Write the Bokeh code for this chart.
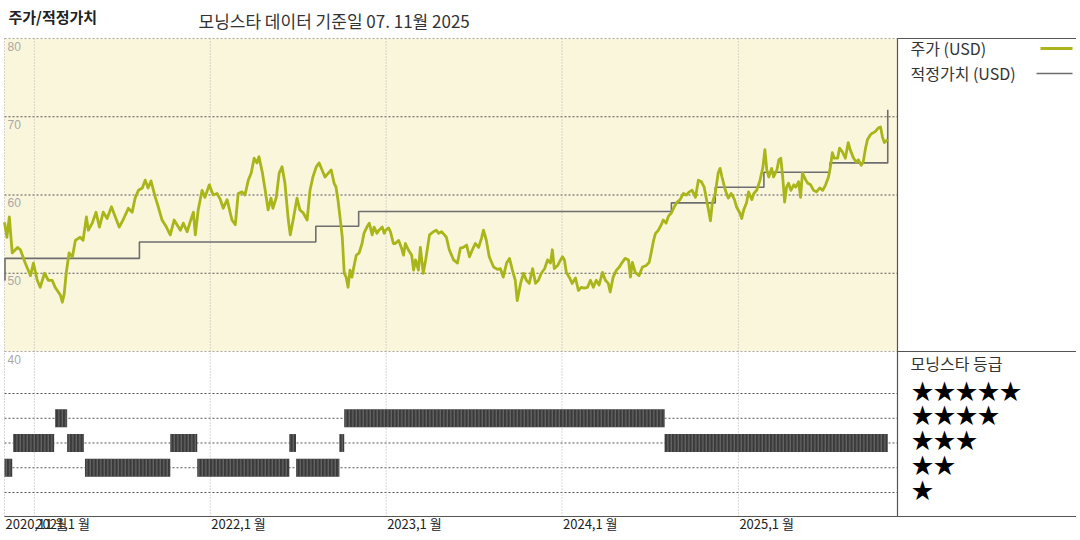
import pandas as pd
from bokeh.plotting import figure
from bokeh.models import ColumnDataSource, Range1d
from bokeh.core.properties import value
from bokeh.embed import file_html
from bokeh.resources import INLINE

# --- data -------------------------------------------------------------
price_dates = [
    "2020-10-31", "2020-11-05", "2020-11-10", "2020-11-16", "2020-11-27", "2020-12-03", "2020-12-13", "2020-12-24", "2020-12-30",
    "2021-01-07", "2021-01-13", "2021-01-22", "2021-01-30", "2021-02-07", "2021-02-13", "2021-02-24", "2021-02-28",
    "2021-03-04", "2021-03-08", "2021-03-14", "2021-03-21", "2021-03-27", "2021-04-06", "2021-04-12", "2021-04-19",
    "2021-04-23", "2021-05-01", "2021-05-09", "2021-05-16", "2021-05-24", "2021-06-01", "2021-06-10", "2021-06-18",
    "2021-06-26", "2021-07-04", "2021-07-15", "2021-07-23", "2021-07-29", "2021-08-05", "2021-08-13", "2021-08-19",
    "2021-08-25", "2021-08-31", "2021-09-09", "2021-09-15", "2021-09-23", "2021-10-02", "2021-10-10", "2021-10-18",
    "2021-10-24", "2021-10-31", "2021-11-06", "2021-11-14", "2021-11-20", "2021-11-27", "2021-12-01", "2021-12-07",
    "2021-12-15", "2021-12-21", "2021-12-30",
    "2022-01-07", "2022-01-15", "2022-01-22", "2022-01-28", "2022-02-05", "2022-02-15", "2022-02-22", "2022-02-28",
    "2022-03-08", "2022-03-14", "2022-03-21", "2022-03-27", "2022-04-02", "2022-04-08", "2022-04-12", "2022-04-19",
    "2022-04-25", "2022-05-01", "2022-05-07", "2022-05-11", "2022-05-18", "2022-05-24", "2022-05-30", "2022-06-05",
    "2022-06-12", "2022-06-16", "2022-06-22", "2022-06-30", "2022-07-06", "2022-07-13", "2022-07-21", "2022-07-27",
    "2022-08-02", "2022-08-09", "2022-08-15", "2022-08-21", "2022-08-27", "2022-09-03", "2022-09-09", "2022-09-15",
    "2022-09-19", "2022-09-23", "2022-09-28", "2022-10-02", "2022-10-06", "2022-10-10", "2022-10-14", "2022-10-18",
    "2022-10-22", "2022-10-26", "2022-10-31", "2022-11-06", "2022-11-12", "2022-11-16", "2022-11-22", "2022-11-27",
    "2022-12-03", "2022-12-07", "2022-12-13", "2022-12-17", "2022-12-24", "2022-12-28", "2022-12-31",
    "2023-01-06", "2023-01-10", "2023-01-16", "2023-01-20", "2023-01-27", "2023-02-02", "2023-02-06", "2023-02-10",
    "2023-02-16", "2023-02-23", "2023-02-27", "2023-03-03", "2023-03-09", "2023-03-13", "2023-03-19", "2023-03-24",
    "2023-03-28", "2023-04-01", "2023-04-09", "2023-04-15", "2023-04-20", "2023-04-26", "2023-05-02", "2023-05-06",
    "2023-05-12", "2023-05-21", "2023-05-29", "2023-06-04", "2023-06-10", "2023-06-17", "2023-06-23", "2023-06-29",
    "2023-07-05", "2023-07-12", "2023-07-18", "2023-07-22", "2023-07-28", "2023-08-03", "2023-08-12", "2023-08-20",
    "2023-08-26", "2023-09-01", "2023-09-08", "2023-09-14", "2023-09-20", "2023-09-26", "2023-09-30", "2023-10-07",
    "2023-10-13", "2023-10-19", "2023-10-25", "2023-11-01", "2023-11-07", "2023-11-13", "2023-11-19", "2023-11-26",
    "2023-12-02", "2023-12-08", "2023-12-12", "2023-12-16", "2023-12-23", "2023-12-29",
    "2024-01-02", "2024-01-06", "2024-01-10", "2024-01-16", "2024-01-22", "2024-01-29", "2024-02-04", "2024-02-10",
    "2024-02-16", "2024-02-23", "2024-02-29", "2024-03-06", "2024-03-12", "2024-03-18", "2024-03-25", "2024-03-31",
    "2024-04-06", "2024-04-10", "2024-04-16", "2024-04-23", "2024-04-29", "2024-05-05", "2024-05-11", "2024-05-18",
    "2024-05-22", "2024-05-26", "2024-06-01", "2024-06-09", "2024-06-16", "2024-06-24", "2024-06-30", "2024-07-04",
    "2024-07-09", "2024-07-13", "2024-07-19", "2024-07-25", "2024-07-29", "2024-08-04", "2024-08-09", "2024-08-15",
    "2024-08-21", "2024-08-27", "2024-09-02", "2024-09-09", "2024-09-15", "2024-09-21", "2024-09-27", "2024-10-04",
    "2024-10-10", "2024-10-16", "2024-10-22", "2024-10-27", "2024-10-31", "2024-11-04", "2024-11-08", "2024-11-14",
    "2024-11-20", "2024-11-24", "2024-11-28", "2024-12-05", "2024-12-11", "2024-12-17", "2024-12-24", "2024-12-28",
    "2025-01-04", "2025-01-08", "2025-01-12", "2025-01-18", "2025-01-22", "2025-01-29", "2025-02-02", "2025-02-08",
    "2025-02-15", "2025-02-21", "2025-02-25", "2025-03-01", "2025-03-05", "2025-03-11", "2025-03-15", "2025-03-22",
    "2025-03-26", "2025-03-30", "2025-04-03", "2025-04-07", "2025-04-11", "2025-04-15", "2025-04-20", "2025-04-26",
    "2025-04-30", "2025-05-06", "2025-05-10", "2025-05-14", "2025-05-21", "2025-05-25", "2025-05-31", "2025-06-06",
    "2025-06-12", "2025-06-19", "2025-06-25", "2025-07-01", "2025-07-07", "2025-07-11", "2025-07-15", "2025-07-19",
    "2025-07-26", "2025-07-30", "2025-08-05", "2025-08-11", "2025-08-17", "2025-08-21", "2025-08-28", "2025-09-03",
    "2025-09-07", "2025-09-13", "2025-09-17", "2025-09-22", "2025-09-26", "2025-10-02", "2025-10-06", "2025-10-12",
    "2025-10-19", "2025-10-23", "2025-10-27", "2025-10-31", "2025-11-07",
]
price_vals = [
    56.5, 54.6, 57.2, 52.6, 53.3, 53.0, 51.3, 49.7, 51.3,
    49.1, 48.2, 50.0, 49.1, 49.1, 48.2, 47.2, 46.3,
    47.4, 50.0, 52.6, 52.1, 54.2, 54.6, 54.2, 57.2,
    55.5, 56.4, 57.8, 55.9, 57.8, 57.0, 58.5, 57.2,
    55.9, 56.8, 58.3, 57.8, 59.6, 60.6, 60.9, 61.9,
    60.9, 61.8, 59.7, 58.5, 56.8, 55.9, 54.9, 56.8,
    56.2, 55.5, 56.4, 55.3, 56.5, 57.8, 54.9, 58.1,
    60.6, 59.7, 61.3,
    60.0, 60.2, 59.4, 58.3, 59.4, 56.8, 56.2, 60.2,
    60.4, 60.0, 61.9, 62.8, 64.7, 64.1, 64.9, 62.9,
    60.6, 58.1, 59.6, 58.3, 59.7, 62.8, 63.6, 61.5,
    56.8, 54.9, 56.8, 59.6, 58.1, 57.7, 56.8, 60.6,
    62.3, 63.6, 64.1, 63.2, 62.3, 62.8, 63.2, 61.5,
    61.0, 59.4, 56.8, 54.6, 50.0, 49.5, 48.2, 50.4,
    49.5, 50.8, 52.3, 52.6, 53.8, 55.1, 55.9, 56.4,
    54.9, 55.9, 55.1, 55.5, 55.9, 55.1, 55.5,
    55.8, 55.3, 53.8, 53.8, 54.2, 53.2, 52.3, 53.8,
    53.0, 52.3, 50.4, 51.7, 50.4, 53.3, 50.0, 51.7,
    53.3, 54.9, 55.3, 55.5, 55.1, 55.3, 54.9, 54.6,
    53.0, 51.7, 51.3, 53.2, 53.3, 53.6, 52.1, 53.0,
    53.8, 53.3, 54.5, 55.5, 54.2, 52.1, 50.8, 50.5,
    50.6, 49.5, 51.3, 51.9, 50.4, 49.1, 46.5, 48.7,
    50.0, 49.1, 48.7, 50.6, 48.7, 49.1, 50.0, 50.6,
    51.7, 51.3, 53.0, 50.6, 51.0, 51.7,
    52.1, 51.7, 50.1, 49.5, 48.7, 49.4, 47.8, 48.2,
    48.1, 48.2, 49.1, 48.2, 49.1, 48.5, 50.1, 49.1,
    48.7, 47.6, 49.5, 50.4, 50.8, 51.4, 51.9, 51.7,
    49.5, 51.4, 50.1, 49.7, 50.8, 51.0, 51.4, 52.6,
    54.2, 55.1, 55.5, 56.2, 56.8, 56.4, 57.3, 57.7,
    58.5, 59.1, 59.4, 60.2, 60.0, 60.4, 60.6, 59.7,
    61.9, 61.7, 61.0, 59.4, 58.1, 56.7, 59.0, 60.2,
    62.8, 63.4, 62.3, 60.6, 59.6, 60.2, 59.4, 58.5,
    57.7, 57.0, 58.1, 59.0, 60.4, 59.4, 60.2, 60.6,
    61.9, 63.6, 65.8, 63.2, 62.3, 63.4, 62.3, 63.2,
    64.5, 64.7, 62.3, 59.1, 61.0, 61.5, 60.6, 61.3,
    61.0, 61.7, 59.7, 62.8, 61.9, 61.5, 61.3, 60.6,
    60.4, 60.9, 60.6, 61.3, 62.3, 63.6, 65.4, 64.7,
    64.7, 66.0, 65.5, 64.7, 66.7, 65.8, 64.7, 64.2,
    64.5, 63.8, 64.2, 66.0, 67.1, 67.7, 67.9, 68.1,
    68.6, 68.7, 67.4, 66.7, 67.1,
]

fair_dates = ["2020-10-31", "2020-11-01", "2021-08-07", "2022-08-08", "2022-11-05",
              "2024-08-15", "2024-11-14", "2025-02-23", "2025-07-10", "2025-11-07"]
fair_vals = [49.1, 51.9, 54.0, 56.0, 57.9, 59.0, 61.0, 62.9, 64.1, 70.9]

rating_start = ["2020-10-31", "2020-11-18", "2021-02-13", "2021-03-10", "2021-04-16", "2021-10-10",
                "2021-12-05", "2022-06-14", "2022-06-28", "2022-09-26", "2022-10-06", "2024-08-01"]
rating_end = ["2020-11-16", "2021-02-11", "2021-03-10", "2021-04-14", "2021-10-10", "2021-12-05",
              "2022-06-14", "2022-06-28", "2022-09-26", "2022-10-06", "2024-08-01", "2025-11-07"]
rating_stars = [2, 3, 4, 3, 2, 3, 2, 3, 2, 3, 4, 3]

value_ticks = [80, 70, 60, 50, 40]
year_ticks = ["2020-10-31", "2021-01-01", "2022-01-01", "2023-01-01", "2024-01-01", "2025-01-01"]
year_labels = ["2020,11 월", "2021,1 월", "2022,1 월", "2023,1 월", "2024,1 월", "2025,1 월"]

title_left = "주가/적정가치"
title_mid = "모닝스타 데이터 기준일 07. 11월 2025"
legend_labels = ["주가 (USD)", "적정가치 (USD)"]
rating_title = "모닝스타 등급"

# --- layout (pixel positions of the panels) ---------------------------
W, H = 1076, 532
FONT = value("Noto Sans CJK KR")
PX_PER_DAY = 176 / 365.25          # one year = 176 px
LEFT_PX = 4                         # where the first date sits
TOP_PX, MID_PX, BOT_PX = 38, 351, 516   # 80 line, 40 line, rating-0 line
PX_PER_VAL = (MID_PX - TOP_PX) / 40.0
ROW_PX = 24.75                      # one star row
RIGHT_PX = 897                      # border to the legend area

x0 = pd.Timestamp("2020-10-31")
x_start = x0 - pd.Timedelta(days=LEFT_PX / PX_PER_DAY)
x_end = x_start + pd.Timedelta(days=W / PX_PER_DAY)
plot_end = x_start + pd.Timedelta(days=RIGHT_PX / PX_PER_DAY)
y_top = 80 + TOP_PX / PX_PER_VAL
y_bot = 40 - (H - MID_PX) / PX_PER_VAL
r0 = BOT_PX + 0.75

p = figure(width=W, height=H, output_backend="svg", toolbar_location=None,
           x_axis_location=None, y_axis_location=None, min_border=0,
           x_range=Range1d(x_start, x_end), y_range=Range1d(y_bot, y_top))
p.extra_x_ranges = {"px": Range1d(0, W)}
p.extra_y_ranges = {"py": Range1d(H, 0), "rt": Range1d((r0 - H) / ROW_PX, r0 / ROW_PX)}
p.outline_line_color = None
p.xgrid.visible = False
p.ygrid.visible = False
p.background_fill_color = "white"
p.border_fill_color = "white"

# yellow price panel
p.quad(left=[x0], right=[plot_end], bottom=[40], top=[80], fill_color="#FAF6DC", line_color=None)

# value grid
p.segment(x0=[x0] * 3, x1=[plot_end] * 3, y0=[50, 60, 70], y1=[50, 60, 70],
          line_color="#555555", line_dash="2 2", line_width=1)
p.segment(x0=[x0] * 2, x1=[plot_end] * 2, y0=[80, 40], y1=[80, 40],
          line_color="#a8a8a8", line_dash="2 2", line_width=1)

# rating rows
rows = [1, 2, 3, 4, 5]
p.segment(x0=[x0] * 5, x1=[plot_end] * 5, y0=rows, y1=rows, y_range_name="rt",
          line_color="#555555", line_dash="2 2", line_width=1)

# year grid + left border
yr = pd.to_datetime(year_ticks)
p.segment(x0=yr, x1=yr, y0=[TOP_PX] * len(yr), y1=[BOT_PX] * len(yr), y_range_name="py",
          line_color="#b0b0b0", line_dash="1 2", line_width=1)

# frame lines
p.segment(x0=[LEFT_PX, RIGHT_PX, RIGHT_PX, RIGHT_PX], x1=[W, W, W, RIGHT_PX],
          y0=[BOT_PX, TOP_PX, MID_PX, TOP_PX], y1=[BOT_PX, TOP_PX, MID_PX, BOT_PX],
          x_range_name="px", y_range_name="py", line_color="#555555", line_width=1.2)

# rating history
rsrc = ColumnDataSource(dict(
    left=pd.to_datetime(rating_start), right=pd.to_datetime(rating_end),
    bottom=[r - 0.36 for r in rating_stars], top=[r + 0.36 for r in rating_stars]))
p.quad(left="left", right="right", bottom="bottom", top="top", source=rsrc, y_range_name="rt",
       fill_color="#3a3a3a", line_color=None,
       hatch_pattern="vertical_line", hatch_color="#8c8c8c", hatch_scale=3.5, hatch_weight=0.7)

# fair value
p.step(x=pd.to_datetime(fair_dates), y=fair_vals, mode="after", line_color="#6e6e6e", line_width=1.6)

# price
psrc = ColumnDataSource(dict(date=pd.to_datetime(price_dates), price=price_vals))
p.line(x="date", y="price", source=psrc, line_color="#A9B518", line_width=2.8, line_join="round")

# value tick labels
p.text(x=[x0] * len(value_ticks), y=value_ticks, text=[str(v) for v in value_ticks],
       x_offset=3, y_offset=3, text_baseline="top", text_align="left",
       text_font=value("Liberation Sans"), text_font_size="12px", text_color="#a8a8a8")

# year labels
p.text(x=yr, y=[523] * len(yr), text=year_labels, y_range_name="py",
       text_baseline="middle", text_align="left", x_offset=1,
       text_font=FONT, text_font_size="13px", text_color="#222222")

# titles
p.text(x=[8], y=[16], text=[title_left], x_range_name="px", y_range_name="py",
       text_baseline="middle", text_font=FONT, text_font_size="15px",
       text_font_style="bold", text_color="#222222")
p.text(x=[198], y=[20], text=[title_mid], x_range_name="px", y_range_name="py",
       text_baseline="middle", text_font=FONT, text_font_size="17px", text_color="#333333")

# legend
p.text(x=[910, 910], y=[47, 72], text=legend_labels, x_range_name="px", y_range_name="py",
       text_baseline="middle", text_font=FONT, text_font_size="16px", text_color="#333333")
p.segment(x0=[1040], x1=[1072], y0=[48], y1=[48], x_range_name="px", y_range_name="py",
          line_color="#A9B518", line_width=3)
p.segment(x0=[1036], x1=[1072], y0=[73], y1=[73], x_range_name="px", y_range_name="py",
          line_color="#6e6e6e", line_width=1.3)

# rating legend
p.text(x=[910], y=[362], text=[rating_title], x_range_name="px", y_range_name="py",
       text_baseline="middle", text_font=FONT, text_font_size="16px", text_color="#333333")
p.text(x=[911] * 5, y=[r + 0.2 for r in rows], text=["★" * r for r in rows],
       x_range_name="px", y_range_name="rt", text_baseline="middle",
       text_font=FONT, text_font_size="22px", text_color="#000000")

open("out.html", "w").write(file_html(p, INLINE))
